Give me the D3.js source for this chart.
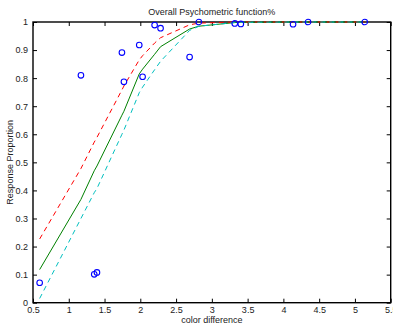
<!DOCTYPE html>
<html>
<head>
<meta charset="utf-8">
<script src="https://cdn.jsdelivr.net/npm/d3@7"></script>
<style>
  body { margin: 0; background: #fff; }
  svg { display: block; font-family: "Liberation Sans", Arial, sans-serif; }
  .domain { display: none; }
</style>
</head>
<body>
<div id="chart"></div>
<script>
// observed points
const obsX = [0.593, 1.170, 1.356, 1.394, 1.743, 1.771, 1.985, 2.032, 2.200, 2.283, 2.689, 2.818, 3.320, 3.405, 4.135, 4.345, 5.137];
const obsY = [0.071, 0.810, 0.101, 0.108, 0.891, 0.787, 0.918, 0.805, 0.989, 0.978, 0.875, 1.000, 0.995, 0.993, 0.992, 1.000, 1.000];

// fitted curves evaluated at the same x values
const fitX = [0.593, 1.170, 1.356, 1.394, 1.743, 1.771, 1.985, 2.032, 2.200, 2.283, 2.689, 2.818, 3.320, 3.405, 4.135, 4.345, 5.137];
const fitMid = [0.118, 0.368, 0.470, 0.487, 0.668, 0.682, 0.815, 0.832, 0.885, 0.912, 0.975, 0.985, 0.998, 0.999, 1.0, 1.0, 1.0];
const fitUpper = [0.227, 0.478, 0.572, 0.589, 0.758, 0.772, 0.865, 0.880, 0.925, 0.944, 0.990, 0.996, 1.0, 1.0, 1.0, 1.0, 1.0];
const fitLower = [0.015, 0.300, 0.392, 0.407, 0.600, 0.615, 0.748, 0.768, 0.830, 0.860, 0.970, 0.985, 0.998, 0.999, 1.0, 1.0, 1.0];

const xTicks = [0.5, 1, 1.5, 2, 2.5, 3, 3.5, 4, 4.5, 5, 5.5];
const yTicks = [0, 0.1, 0.2, 0.3, 0.4, 0.5, 0.6, 0.7, 0.8, 0.9, 1];

const width = 393;
const height = 324;
const margin = { top: 22, right: 2.3, bottom: 21.3, left: 33 };
const iw = width - margin.left - margin.right;
const ih = height - margin.top - margin.bottom;

const svg = d3.select("#chart").append("svg")
  .attr("width", width)
  .attr("height", height);

const g = svg.append("g")
  .attr("transform", `translate(${margin.left},${margin.top})`);

const x = d3.scaleLinear().domain([0.5, 5.5]).range([0, iw]);
const y = d3.scaleLinear().domain([0, 1]).range([ih, 0]);

const fmt = d3.format("~g");

// axes, ticks pointing inward like matlab
g.append("g")
  .attr("transform", `translate(0,${ih})`)
  .call(d3.axisBottom(x).tickValues(xTicks).tickFormat(fmt).tickSize(-4).tickPadding(4));
g.append("g")
  .call(d3.axisTop(x).tickValues(xTicks).tickFormat("").tickSize(-4));
g.append("g")
  .call(d3.axisLeft(y).tickValues(yTicks).tickFormat(fmt).tickSize(-4).tickPadding(5));
g.append("g")
  .attr("transform", `translate(${iw},0)`)
  .call(d3.axisRight(y).tickValues(yTicks).tickFormat("").tickSize(-4));

g.selectAll(".tick line").attr("stroke", "#000").attr("stroke-width", 1);
g.selectAll(".tick text").attr("fill", "#222").style("font-size", "9px");

// box
g.append("rect")
  .attr("width", iw)
  .attr("height", ih)
  .attr("fill", "none")
  .attr("stroke", "#000")
  .attr("stroke-width", 1.4);

const line = (ys) => d3.line()
  .x((d, i) => x(fitX[i]))
  .y((d) => y(d))(ys);

g.append("path")
  .attr("d", line(fitMid))
  .attr("fill", "none")
  .attr("stroke", "#008000")
  .attr("stroke-width", 1);

g.append("path")
  .attr("d", line(fitUpper))
  .attr("fill", "none")
  .attr("stroke", "#ff0000")
  .attr("stroke-width", 1)
  .attr("stroke-dasharray", "5,4");

g.append("path")
  .attr("d", line(fitLower))
  .attr("fill", "none")
  .attr("stroke", "#00bfbf")
  .attr("stroke-width", 1)
  .attr("stroke-dasharray", "5,4");

g.selectAll("circle")
  .data(obsX)
  .enter()
  .append("circle")
  .attr("cx", (d) => x(d))
  .attr("cy", (d, i) => y(obsY[i]))
  .attr("r", 2.8)
  .attr("fill", "none")
  .attr("stroke", "#0000ff")
  .attr("stroke-width", 1.1);

svg.append("text")
  .attr("x", margin.left + iw / 2)
  .attr("y", 14.7)
  .attr("text-anchor", "middle")
  .style("font-size", "9px")
  .attr("fill", "#222")
  .text("Overall Psychometric function%");

svg.append("text")
  .attr("x", margin.left + iw / 2)
  .attr("y", 322.5)
  .attr("text-anchor", "middle")
  .style("font-size", "9px")
  .attr("fill", "#222")
  .text("color difference");

svg.append("text")
  .attr("transform", `translate(13,${margin.top + ih / 2}) rotate(-90)`)
  .attr("text-anchor", "middle")
  .style("font-size", "9px")
  .attr("fill", "#222")
  .text("Response Proportion");
</script>
</body>
</html>
